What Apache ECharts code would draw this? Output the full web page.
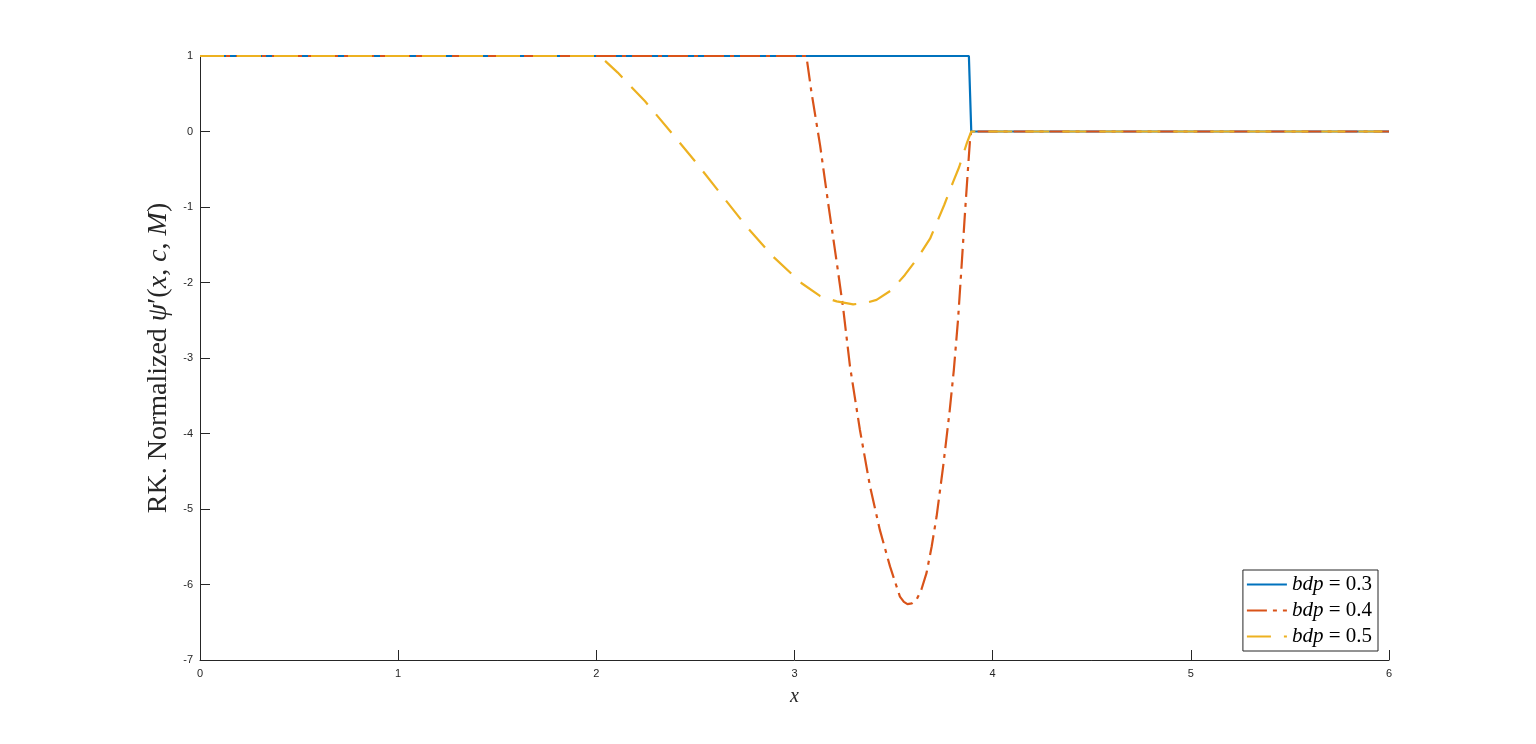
<!DOCTYPE html>
<html>
<head>
<meta charset="utf-8">
<script src="https://cdn.jsdelivr.net/npm/echarts@6/dist/echarts.min.js"></script>
<style>html,body{margin:0;padding:0;background:#fff}#c{width:1536px;height:744px}</style>
</head>
<body>
<div id="c"></div>
<script>
var seriesNames = ['bdp = 0.3', 'bdp = 0.4', 'bdp = 0.5'];
var legendValues = ['0.3', '0.4', '0.5'];
var xTicks = [0, 1, 2, 3, 4, 5, 6];
var yTicks = [1, 0, -1, -2, -3, -4, -5, -6, -7];

var bdp03 = [[0, 1], [3.880, 1], [3.892, 0], [6, 0]];
var bdp04 = [[0, 1], [3.06, 1], [3.085, 0.53], [3.129, -0.18], [3.171, -0.97], [3.213, -1.73],
  [3.246, -2.35], [3.280, -3.11], [3.330, -3.95], [3.381, -4.70], [3.431, -5.28], [3.482, -5.76],
  [3.532, -6.16], [3.552, -6.23], [3.570, -6.26], [3.592, -6.25], [3.616, -6.20], [3.640, -6.07],
  [3.666, -5.85], [3.692, -5.50], [3.717, -5.10], [3.750, -4.44], [3.783, -3.70], [3.804, -3.16],
  [3.825, -2.50], [3.842, -1.83], [3.858, -1.17], [3.875, -0.51], [3.886, -0.10], [3.892, 0], [6, 0]];
var bdp05 = [[0, 1], [2.018, 1], [2.108, 0.78], [2.246, 0.40], [2.380, -0.02], [2.506, -0.42],
  [2.632, -0.84], [2.758, -1.26], [2.893, -1.66], [3.036, -2.01], [3.130, -2.18], [3.213, -2.25],
  [3.296, -2.29], [3.360, -2.27], [3.414, -2.23], [3.490, -2.10], [3.557, -1.90], [3.620, -1.68],
  [3.684, -1.42], [3.756, -0.97], [3.800, -0.67], [3.831, -0.47], [3.870, -0.15], [3.892, 0], [6, 0]];

var chart = echarts.init(document.getElementById('c'), null, {renderer: 'canvas'});
var tickFont = {color: '#262626', fontSize: 11, fontFamily: 'Liberation Sans, Arial, sans-serif'};
var serif = 'Liberation Serif, Times New Roman, serif';

chart.setOption({
  animation: false,
  backgroundColor: '#ffffff',
  grid: {left: 200, right: 147, top: 56, bottom: 84, containLabel: false},
  xAxis: {
    type: 'value', min: 0, max: 6, interval: 1,
    name: '{i|x}', nameLocation: 'middle', nameGap: 27,
    nameTextStyle: {rich: {i: {fontFamily: serif, fontStyle: 'italic', fontSize: 20, color: '#262626'}}},
    axisLine: {show: true, onZero: false, lineStyle: {color: '#262626', width: 1}},
    axisTick: {show: true, inside: true, length: 10, lineStyle: {color: '#262626'}},
    axisLabel: Object.assign({margin: 8, formatter: function (v) { return xTicks.indexOf(v) >= 0 ? String(v) : ''; }}, tickFont),
    splitLine: {show: false}
  },
  yAxis: {
    type: 'value', min: -7, max: 1, interval: 1,
    name: '{n|RK. Normalized }{i|ψ}{n|′(}{i|x}{n|, }{i|c}{n|, }{i|M}{n|)}',
    nameLocation: 'middle', nameGap: 18, nameRotate: 90,
    nameTextStyle: {rich: {
      n: {fontFamily: serif, fontSize: 28, color: '#262626'},
      i: {fontFamily: serif, fontStyle: 'italic', fontSize: 28, color: '#262626'}
    }},
    axisLine: {show: true, onZero: false, lineStyle: {color: '#262626', width: 1}},
    axisTick: {show: true, inside: true, length: 10, lineStyle: {color: '#262626'}},
    axisLabel: Object.assign({margin: 7, formatter: function (v) { return yTicks.indexOf(v) >= 0 ? String(v) : ''; }}, tickFont),
    splitLine: {show: false}
  },
  legend: {
    orient: 'vertical', right: 158, bottom: 93,
    backgroundColor: '#ffffff', borderColor: '#262626', borderWidth: 1,
    padding: [4, 6, 4, 3], itemWidth: 40, itemHeight: 14, itemGap: 5,
    itemStyle: {opacity: 0},
    data: seriesNames,
    formatter: function (name) { return '{i|bdp}{n| = ' + legendValues[seriesNames.indexOf(name)] + '}'; },
    textStyle: {rich: {
      i: {fontFamily: serif, fontStyle: 'italic', fontSize: 21, lineHeight: 21, color: '#000'},
      n: {fontFamily: serif, fontSize: 21, lineHeight: 21, color: '#000'}
    }}
  },
  series: [
    {name: seriesNames[0], type: 'line', data: bdp03, symbol: 'none', smooth: false,
      lineStyle: {color: '#0072BD', width: 2.2}, itemStyle: {color: '#0072BD'}},
    {name: seriesNames[1], type: 'line', data: bdp04, symbol: 'none', smooth: false,
      lineStyle: {color: '#D95319', width: 2.2, type: [20, 6, 4, 6]}, itemStyle: {color: '#D95319'}},
    {name: seriesNames[2], type: 'line', data: bdp05, symbol: 'none', smooth: false,
      lineStyle: {color: '#EDB120', width: 2.2, type: [24, 13]}, itemStyle: {color: '#EDB120'}}
  ]
});
</script>
</body>
</html>
